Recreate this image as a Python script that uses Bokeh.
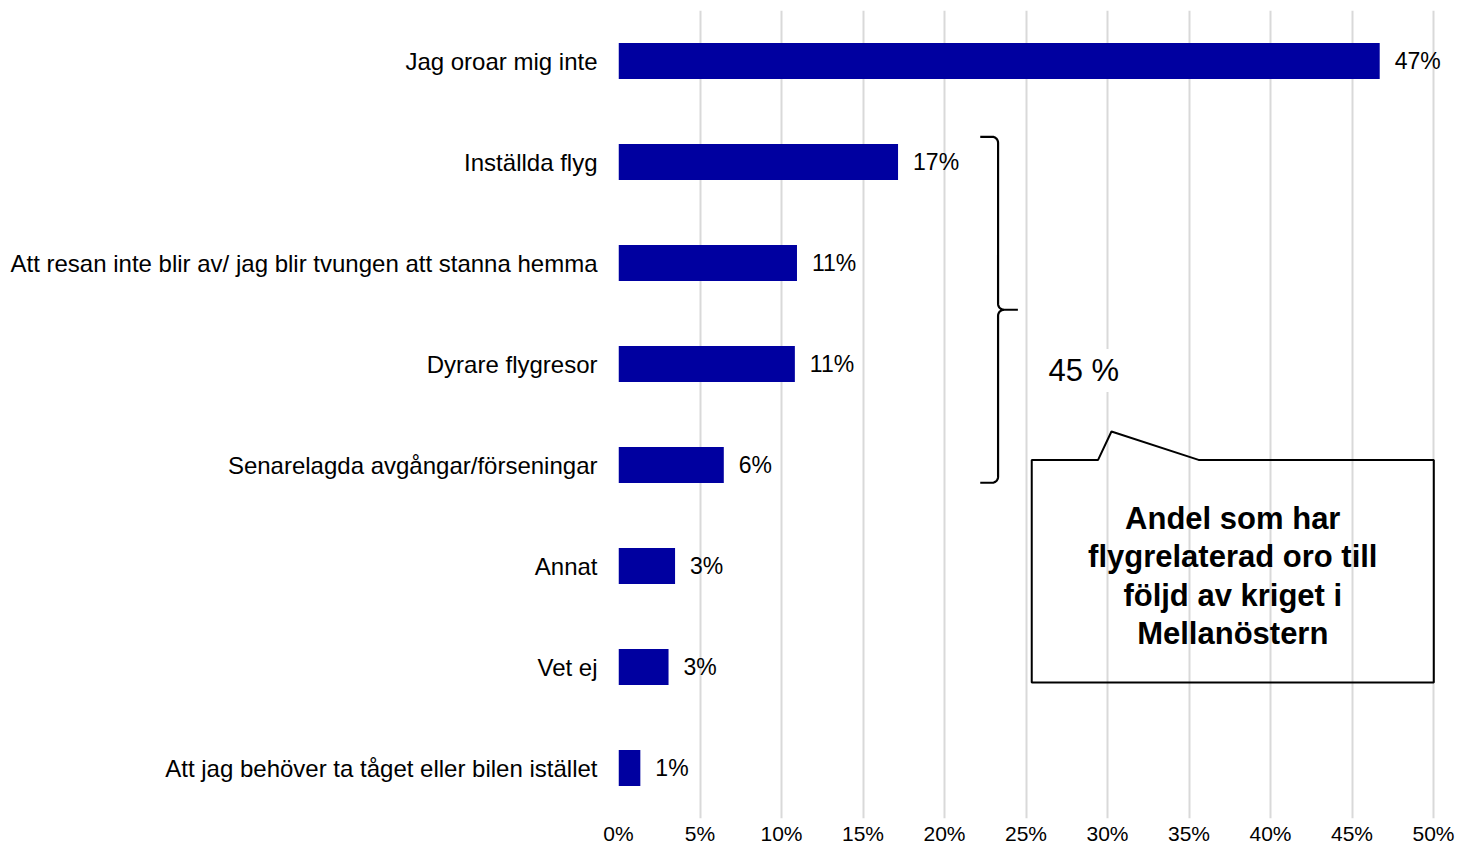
import math
from bokeh.plotting import figure
from bokeh.models import Range1d, FixedTicker, Label
from bokeh.embed import file_html
from bokeh.resources import INLINE
from bokeh.core.properties import value

# ---------------- data ----------------
categories = [
    "Jag oroar mig inte",
    "Inställda flyg",
    "Att resan inte blir av/ jag blir tvungen att stanna hemma",
    "Dyrare flygresor",
    "Senarelagda avgångar/förseningar",
    "Annat",
    "Vet ej",
    "Att jag behöver ta tåget eller bilen istället",
]
values = [46.7, 17.15, 10.95, 10.82, 6.46, 3.47, 3.07, 1.34]
value_labels = ["47%", "17%", "11%", "11%", "6%", "3%", "3%", "1%"]
x_ticks = [0, 5, 10, 15, 20, 25, 30, 35, 40, 45, 50]
x_tick_labels = ["0%", "5%", "10%", "15%", "20%", "25%", "30%", "35%", "40%", "45%", "50%"]
bracket_total = "45 %"
callout_lines = ["Andel som har", "flygrelaterad oro till", "följd av kriget i", "Mellanöstern"]

# ---------------- layout ----------------
FONT = "Liberation Sans"
BAR_COLOR = "#0000A0"
W, H = 1455, 848
LEFT, RIGHT, TOP, BOTTOM = 618, 4, 10, 30
PX_PER_PCT = 16.3
X_END = (W - LEFT - RIGHT) / PX_PER_PCT
N = len(categories)
idx = list(range(N))

# reference-image pixel -> data helpers for the annotation shapes
REF_X0, REF_PX, REF_Y0, REF_UNIT = 619.7, 16.46, 60.75, 101.6

def dx(px):
    return (px - REF_X0) / REF_PX

def dy(py):
    return (py - REF_Y0) / REF_UNIT

p = figure(width=W, height=H, output_backend="svg", toolbar_location=None,
           x_range=Range1d(0, X_END), y_range=Range1d(N - 0.5, -0.5),
           min_border_left=LEFT, min_border_right=RIGHT,
           min_border_top=TOP, min_border_bottom=BOTTOM)
p.outline_line_color = None
p.background_fill_color = "white"

# grid
p.xgrid.ticker = FixedTicker(ticks=x_ticks)
p.xgrid.grid_line_color = "#d9d9d9"
p.xgrid.grid_line_width = 2
p.ygrid.visible = False

# x axis
p.xaxis.ticker = FixedTicker(ticks=x_ticks)
p.xaxis.major_label_overrides = dict(zip(x_ticks, x_tick_labels))
p.xaxis.axis_line_color = None
p.xaxis.major_tick_line_color = None
p.xaxis.minor_tick_line_color = None
p.xaxis.major_tick_out = 0
p.xaxis.major_tick_in = 0
p.xaxis.major_label_standoff = 3
p.xaxis.major_label_text_font = FONT
p.xaxis.major_label_text_font_size = "21px"
p.xaxis.major_label_text_color = "black"

# y axis
p.yaxis.ticker = FixedTicker(ticks=idx)
p.yaxis.major_label_overrides = dict(zip(idx, categories))
p.yaxis.axis_line_color = None
p.yaxis.major_tick_line_color = None
p.yaxis.minor_tick_line_color = None
p.yaxis.major_tick_out = 0
p.yaxis.major_tick_in = 0
p.yaxis.major_label_standoff = 21
p.yaxis.major_label_text_font = FONT
p.yaxis.major_label_text_font_size = "24px"
p.yaxis.major_label_text_color = "black"

# bars
p.hbar(y=idx, left=0, right=values, height=0.355, fill_color=BAR_COLOR, line_color=None)

# value labels
p.text(x=values, y=idx, text=value_labels, x_offset=15, text_align="left",
       text_baseline="middle", text_font=value(FONT), text_font_size="23px",
       text_color="black")

# brace
def arc(cx, cy, r, a0, a1, n=8):
    return [(cx + r * math.cos(math.radians(a0 + (a1 - a0) * k / n)),
             cy + r * math.sin(math.radians(a0 + (a1 - a0) * k / n))) for k in range(n + 1)]

BX, BL, BTOP, BBOT, BMID, TIP, R = 1003, 985, 137, 485, 311, 1023, 6
upper = [(BL, BTOP)] + arc(BX - R, BTOP + R, R, -90, 0) + [(BX, BMID - R)] + \
        arc(BX + R, BMID - R, R, 180, 90) + [(TIP, BMID)]
lower = arc(BX + R, BMID + R, R, 270, 180) + [(BX, BBOT - R)] + \
        arc(BX - R, BBOT - R, R, 0, 90) + [(BL, BBOT)]
for path in (upper, lower):
    p.line([dx(a) for a, b in path], [dy(b) for a, b in path],
           line_color="black", line_width=2.2)

# "45 %" label
p.add_layout(Label(x=dx(1089.5), y=dy(372), text=bracket_total, text_align="center",
                   text_baseline="middle", text_font=FONT, text_font_size="31px",
                   text_color="black", background_fill_color="white", padding=4))

# callout box
box = [(1037, 462), (1104, 462), (1117.5, 433.5), (1205.5, 462), (1443, 462),
       (1443, 686), (1037, 686)]
p.patch([dx(a) for a, b in box], [dy(b) for a, b in box], fill_alpha=0,
        line_color="black", line_width=2)

base0, step = 521.0, 38.6
p.text(x=[dx(1240)] * len(callout_lines),
       y=[dy(base0 + step * k) for k in range(len(callout_lines))],
       text=callout_lines, text_align="center", text_baseline="alphabetic",
       text_font=value(FONT), text_font_style="bold", text_font_size="31px",
       text_color="black")

open("out.html", "w").write(file_html(p, INLINE))
